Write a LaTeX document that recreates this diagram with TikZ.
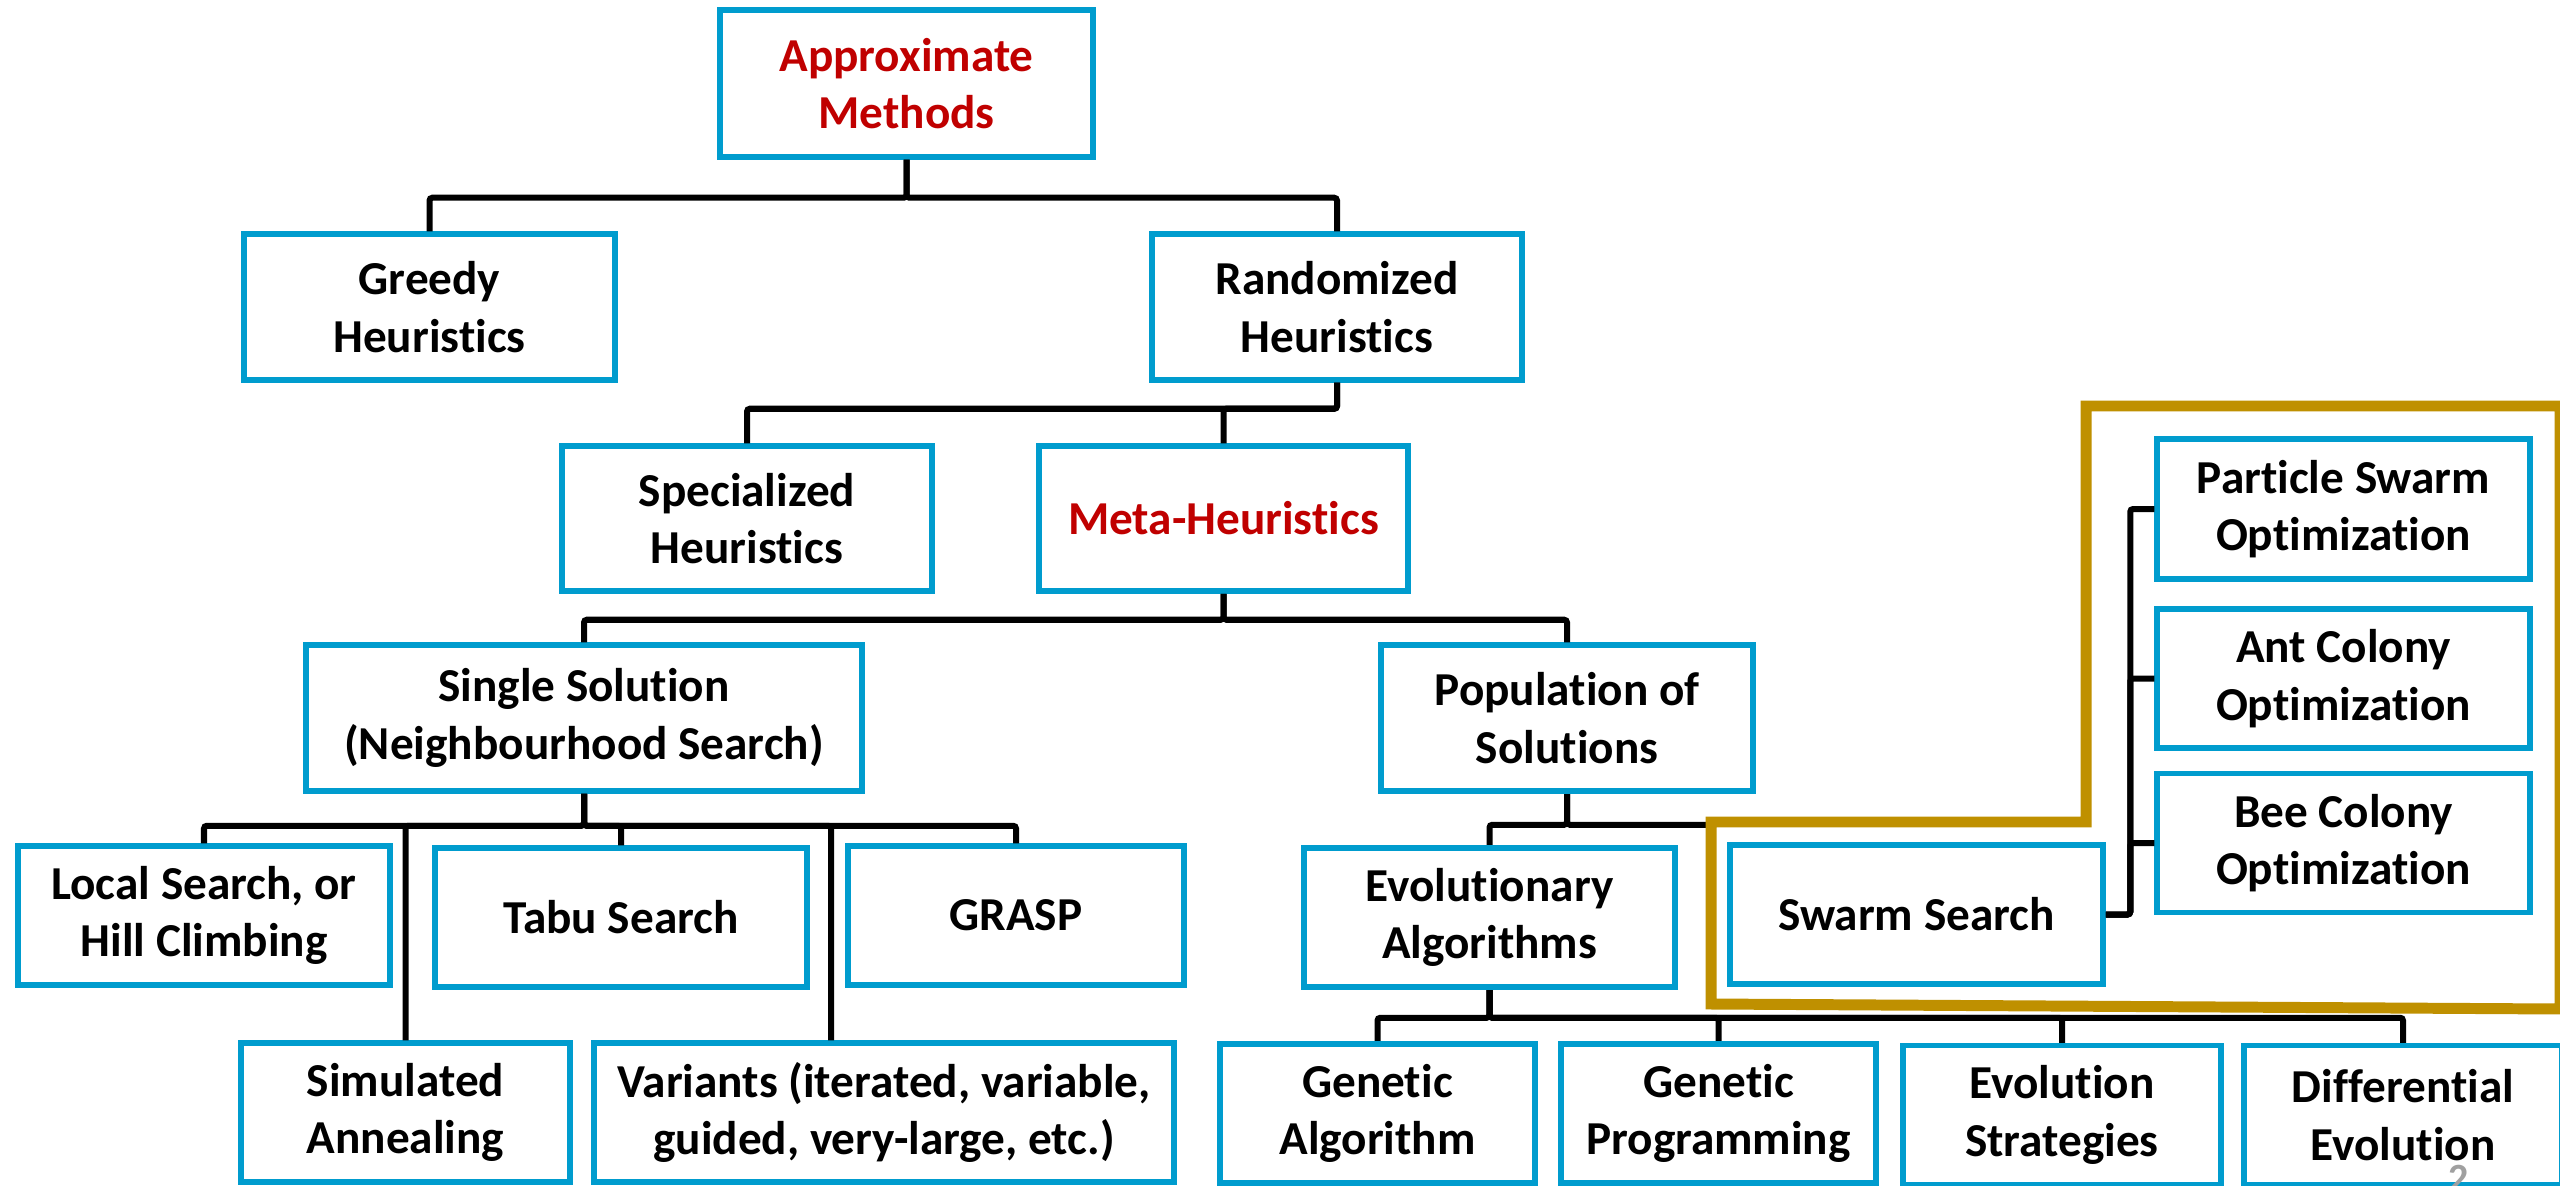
\documentclass[tikz,border=0pt]{standalone}
\usepackage{fontspec}
\setmainfont{Carlito}[Ligatures=NoCommon]
\definecolor{boxblue}{RGB}{0,156,206}
\definecolor{hired}{RGB}{192,0,0}
\definecolor{goldframe}{RGB}{191,144,0}
\definecolor{pagegray}{RGB}{160,160,160}
\pgfdeclarelayer{bg}
\pgfdeclarelayer{frame}
\pgfsetlayers{bg,frame,main}
\tikzset{
  box/.style={draw=boxblue, line width=3.9pt, fill=white, align=center, inner sep=0pt,
    font=\fontsize{33.6pt}{41pt}\selectfont\bfseries},
  redtext/.style={text=hired},
  conn/.style={draw=black, line width=4.27pt, rounded corners=2pt},
  goldline/.style={draw=goldframe, line width=7.8pt, fill=white},
}
\begin{document}
\begin{tikzpicture}[x=0.025cm,y=-0.025cm]
\useasboundingbox (0,0) rectangle (2560,1185);

% level 0
\node[box, redtext, minimum width=373*0.025cm, minimum height=147*0.025cm] (approx) at (906.5,83.5) {Approximate\\Methods};
% level 1
\node[box, minimum width=371*0.025cm, minimum height=146*0.025cm] (greedy) at (429.5,307) {Greedy\\Heuristics};
\node[box, minimum width=370*0.025cm, minimum height=146*0.025cm] (rand) at (1337,307) {Randomized\\Heuristics};
% level 2
\node[box, minimum width=370*0.025cm, minimum height=145*0.025cm] (spec) at (747,518.5) {Specialized\\Heuristics};
\node[box, redtext, minimum width=369*0.025cm, minimum height=145*0.025cm] (meta) at (1223.5,518.5) {Meta-Heuristics};
% level 3
\node[box, minimum width=556*0.025cm, minimum height=146*0.025cm] (single) at (584,718) {Single Solution\\(Neighbourhood Search)};
\node[box, minimum width=372*0.025cm, minimum height=146*0.025cm] (pop) at (1567,718) {Population of\\Solutions};
% level 4
\node[box, minimum width=372*0.025cm, minimum height=139*0.025cm] (local) at (204,915.5) {Local Search, or\\Hill Climbing};
\node[box, minimum width=372*0.025cm, minimum height=139*0.025cm] (tabu) at (621,917.5) {Tabu Search};
\node[box, minimum width=336*0.025cm, minimum height=139*0.025cm] (grasp) at (1016,915.5) {GRASP};
\node[box, minimum width=371*0.025cm, minimum height=139*0.025cm] (evo) at (1489.5,917.5) {Evolutionary\\Algorithms};
% level 5
\node[box, minimum width=329*0.025cm, minimum height=139*0.025cm] (sim) at (405.5,1112.5) {Simulated\\Annealing};
\node[box, minimum width=580*0.025cm, minimum height=139*0.025cm] (variants) at (884,1112.5) {Variants (iterated, variable,\\guided, very-large, etc.)};
\node[box, minimum width=315*0.025cm, minimum height=139*0.025cm] (ga) at (1377.5,1113.5) {Genetic\\Algorithm};
\node[box, minimum width=315*0.025cm, minimum height=139*0.025cm] (gp) at (1718.5,1113.5) {Genetic\\Programming};
\node[box, minimum width=318*0.025cm, minimum height=139*0.025cm] (es) at (2062,1115) {Evolution\\Strategies};
\node[box, minimum width=318*0.025cm, minimum height=139*0.025cm] (de) at (2403,1115) {Differential\\Evolution};

% swarm group
\node[box, minimum width=373*0.025cm, minimum height=139*0.025cm] (swarm) at (1916.5,914.5) {Swarm Search};
\node[box, minimum width=373*0.025cm, minimum height=140*0.025cm] (pso) at (2343.5,509) {Particle Swarm\\Optimization};
\node[box, minimum width=373*0.025cm, minimum height=139*0.025cm] (aco) at (2343.5,678.5) {Ant Colony\\Optimization};
\node[box, minimum width=373*0.025cm, minimum height=139*0.025cm] (bco) at (2343.5,843) {Bee Colony\\Optimization};

% page number (cut by the page edge)
\node[text=pagegray, inner sep=0pt, anchor=base, font=\fontsize{28.5pt}{30pt}\selectfont\bfseries] (pagenum) at (2459,1191) {2};

% connectors
\draw[conn] (approx.south) -- ++(0,38) -| (greedy.north);
\draw[conn] (approx.south) -- ++(0,38) -| (rand.north);
\draw[conn] (rand.south) -- ++(0,26) -| (spec.north);
\draw[conn] (rand.south) -- ++(0,26) -| (meta.north);
\draw[conn] (meta.south) -- ++(0,26) -| (single.north);
\draw[conn] (meta.south) -- ++(0,26) -| (pop.north);

\coordinate (vdrop) at (831,0);
\draw[conn] (single.south) -- ++(0,32) -| (local.north);
\draw[conn] (single.south) -- ++(0,32) -| (tabu.north);
\draw[conn] (single.south) -- ++(0,32) -| (grasp.north);
\draw[conn] (single.south) -- ++(0,32) -| (sim.north);
\draw[conn] (single.south) -- ++(0,32) -| (vdrop |- variants.north);

\draw[conn] (swarm.east) -- ++(24.5,0) |- (pso.west);
\draw[conn] (swarm.east) -- ++(24.5,0) |- (aco.west);
\draw[conn] (swarm.east) -- ++(24.5,0) |- (bco.west);

\begin{pgfonlayer}{bg}
\draw[conn] (pop.south) -- ++(0,31) -| (evo.north);
\draw[conn] (pop.south) -- ++(0,31) -| (swarm.north);
\draw[conn] (evo.south) -- ++(0,28) -| (ga.north);
\draw[conn] (evo.south) -- ++(0,28) -| (gp.north);
\draw[conn] (evo.south) -- ++(0,28) -| (es.north);
\draw[conn] (evo.south) -- ++(0,28) -| (de.north);
\end{pgfonlayer}

\begin{pgfonlayer}{frame}
\draw[goldline] (2086,406) -- (2560,406) -- (2560,1009) -- (1711,1004) -- (1711,822) -- (2086,822) -- cycle;
\end{pgfonlayer}
\end{tikzpicture}
\end{document}
